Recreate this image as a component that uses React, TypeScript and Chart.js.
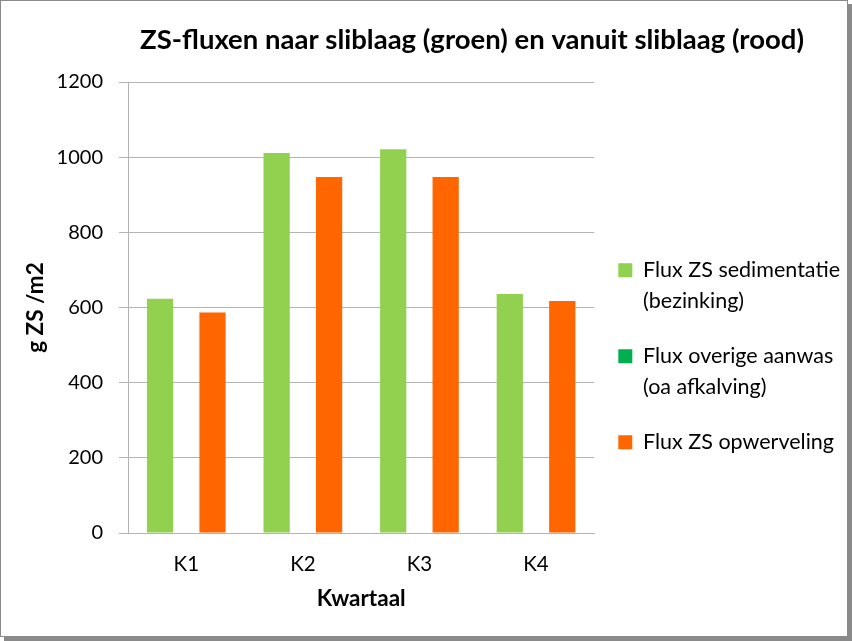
import React, { useEffect, useRef } from "react";
import { Chart, registerables } from "chart.js";

Chart.register(...registerables);

const chartTitle = "ZS-fluxen naar sliblaag (groen) en vanuit sliblaag (rood)";
const categories = ["K1", "K2", "K3", "K4"];
const seriesNames = [
  "Flux ZS sedimentatie\n(bezinking)",
  "Flux overige aanwas\n(oa afkalving)",
  "Flux ZS opwerveling",
];
const sedimentatie = [623, 1011, 1021, 636];
const overigeAanwas = [0, 0, 0, 0];
const opwerveling = [587, 947, 947, 617];
const seriesColors = ["#92D050", "#00B050", "#FF6600"];
const yTicks = [0, 200, 400, 600, 800, 1000, 1200];
const yTitle = "g ZS /m2";
const xTitle = "Kwartaal";

const FONT = "Lato, 'Open Sans', sans-serif";

// centre the chart title over the plot+legend region like the original
const titleShift = {
  id: "titleShift",
  afterLayout(chart: any) {
    const t = chart.titleBlock;
    if (t) {
      t.left = 92;
      t.right = 852;
      t.width = 760;
    }
  },
};

export default function App() {
  const canvasRef = useRef<HTMLCanvasElement | null>(null);

  useEffect(() => {
    document.body.style.margin = "0";
    document.documentElement.style.overflow = "hidden";
    const canvas = canvasRef.current;
    if (!canvas) return;
    Chart.defaults.font.family = FONT;
    const values = [sedimentatie, overigeAanwas, opwerveling];
    const chart = new Chart(canvas, {
      type: "bar",
      data: {
        labels: categories,
        datasets: seriesNames.map((name, i) => ({
          label: name,
          data: values[i],
          backgroundColor: seriesColors[i],
          borderWidth: 0,
          categoryPercentage: 0.675,
          barPercentage: 1,
        })),
      },
      plugins: [titleShift],
      options: {
        responsive: false,
        animation: false,
        devicePixelRatio: 1,
        layout: { padding: { top: 10, left: 0, right: 2, bottom: 0 } },
        plugins: {
          tooltip: { enabled: false },
          title: {
            display: true,
            text: chartTitle,
            align: "center",
            color: "#000",
            font: { family: FONT, size: 27.5, weight: "bold", lineHeight: 1.2 },
            padding: { top: 13.5, bottom: 25.5 },
          },
          legend: {
            position: "right",
            align: "center",
            maxWidth: 257,
            title: {
              display: true,
              text: " ",
              font: { size: 10, lineHeight: 1.2 },
              padding: { top: 59, bottom: 0 },
            },
            labels: {
              boxWidth: 14,
              boxHeight: 14,
              padding: 24,
              color: "#000",
              font: { family: FONT, size: 21.5, lineHeight: 31 / 21.5 },
              generateLabels: (c: any) =>
                Chart.defaults.plugins.legend.labels
                  .generateLabels(c)
                  .map((l: any) => ({ ...l, text: String(l.text).split("\n") })),
            },
          },
        },
        scales: {
          x: {
            grid: { display: false, drawTicks: false },
            border: { display: true, color: "#B3B3B3" },
            ticks: { color: "#000", font: { family: FONT, size: 20.5 }, padding: 19 },
            title: {
              display: true,
              text: xTitle,
              color: "#000",
              font: { family: FONT, size: 22.5, weight: "bold", lineHeight: 1.2 },
              padding: { top: 0, bottom: 28.5 },
            },
            afterFit: (s: any) => {
              s.height = 108;
            },
          },
          y: {
            min: 0,
            max: 1200,
            afterBuildTicks: (s: any) => {
              s.ticks = yTicks.map((v) => ({ value: v }));
            },
            grid: { color: "#B3B3B3", tickLength: 9, drawTicks: true },
            border: { display: true, color: "#B3B3B3" },
            ticks: {
              color: "#000",
              font: { family: FONT, size: 20 },
              padding: 16,
              callback: (v: any) => String(v),
            },
            title: {
              display: true,
              text: yTitle,
              color: "#000",
              font: { family: FONT, size: 22.5, weight: "bold", lineHeight: 1.2 },
              padding: { top: 22.5, bottom: 0 },
            },
            afterFit: (s: any) => {
              s.width = 128;
            },
          },
        },
      },
    } as any);
    return () => chart.destroy();
  }, []);

  return (
    <div style={{ position: "relative", width: 852, height: 641, overflow: "hidden", background: "#fff" }}>
      <canvas ref={canvasRef} width={852} height={641} style={{ display: "block", position: "absolute", left: 0, top: 0 }} />
      <div
        style={{
          position: "absolute",
          left: 0,
          top: 0,
          width: 848,
          height: 637,
          boxSizing: "border-box",
          border: "1px solid #8a8a8a",
          boxShadow: "4px 4px 0 #8a8a8a",
          pointerEvents: "none",
        }}
      />
    </div>
  );
}
